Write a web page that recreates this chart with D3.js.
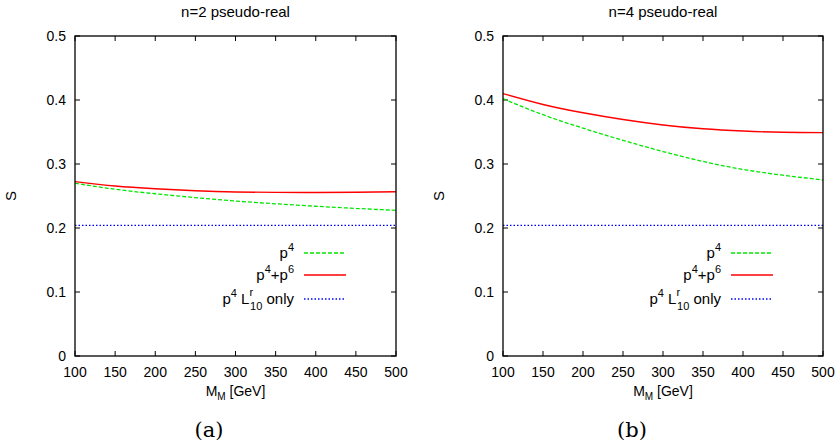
<!DOCTYPE html>
<html>
<head>
<meta charset="utf-8">
<script src="https://cdn.jsdelivr.net/npm/d3@7"></script>
<style>
  body { margin: 0; background: #fff; }
</style>
</head>
<body>
<div id="chart"></div>
<script>
// masses in GeV
const masses = [100, 150, 200, 250, 300, 350, 400, 450, 500];

// n=2 pseudo-real
const n2P4 = [0.2700, 0.2605, 0.2535, 0.2475, 0.2422, 0.2378, 0.2340, 0.2306, 0.2276];
const n2P4P6 = [0.2724, 0.2656, 0.2614, 0.2583, 0.2563, 0.2556, 0.2555, 0.2558, 0.2567];
const n2L10 = [0.204, 0.204, 0.204, 0.204, 0.204, 0.204, 0.204, 0.204, 0.204];

// n=4 pseudo-real
const n4P4 = [0.402, 0.377, 0.356, 0.337, 0.3195, 0.304, 0.2915, 0.2825, 0.275];
const n4P4P6 = [0.410, 0.393, 0.380, 0.3695, 0.361, 0.355, 0.3515, 0.3495, 0.349];
const n4L10 = [0.204, 0.204, 0.204, 0.204, 0.204, 0.204, 0.204, 0.204, 0.204];

const xTicks = [100, 150, 200, 250, 300, 350, 400, 450, 500];
const yTicks = [0, 0.1, 0.2, 0.3, 0.4, 0.5];

const W = 840, H = 445;
const FONT = '"Liberation Sans", Arial, Helvetica, sans-serif';
const svg = d3.select('#chart').append('svg')
  .attr('width', W).attr('height', H)
  .attr('font-family', FONT);

const panels = [
  { title: 'n=2 pseudo-real', caption: '(a)', capX: 209, left: 75, right: 396, p4: n2P4, p6: n2P4P6, l10: n2L10 },
  { title: 'n=4 pseudo-real', caption: '(b)', capX: 632, left: 503, right: 823, p4: n4P4, p6: n4P4P6, l10: n4L10 }
];
const TOP = 36, BOTTOM = 356;
const GREEN = '#00e600', RED = '#ff0000', BLUE = '#0000ff';

panels.forEach(p => {
  const x = d3.scaleLinear().domain([100, 500]).range([p.left, p.right]);
  const y = d3.scaleLinear().domain([0, 0.5]).range([BOTTOM, TOP]);
  const g = svg.append('g');

  // ticks inward on all four sides
  const tk = 5;
  xTicks.forEach(t => {
    g.append('line').attr('x1', x(t)).attr('x2', x(t)).attr('y1', BOTTOM).attr('y2', BOTTOM - tk).attr('stroke', '#000');
    g.append('line').attr('x1', x(t)).attr('x2', x(t)).attr('y1', TOP).attr('y2', TOP + tk).attr('stroke', '#000');
    g.append('text').attr('x', x(t)).attr('y', BOTTOM + 21)
      .attr('text-anchor', 'middle').attr('font-size', 14).text(t);
  });
  yTicks.forEach(t => {
    g.append('line').attr('x1', p.left).attr('x2', p.left + tk).attr('y1', y(t)).attr('y2', y(t)).attr('stroke', '#000');
    g.append('line').attr('x1', p.right).attr('x2', p.right - tk).attr('y1', y(t)).attr('y2', y(t)).attr('stroke', '#000');
    g.append('text').attr('x', p.left - 9).attr('y', y(t) + 5)
      .attr('text-anchor', 'end').attr('font-size', 14).text(t === 0 ? '0' : d3.format('.1f')(t));
  });

  const line = d3.line().x((d, i) => x(masses[i])).y(d => y(d)).curve(d3.curveNatural);
  const series = [
    { data: p.l10, color: BLUE, dash: '1.5,2', w: 1.3 },
    { data: p.p4, color: GREEN, dash: '4,2', w: 1.3 },
    { data: p.p6, color: RED, dash: null, w: 1.4 }
  ];
  series.forEach(s => {
    g.append('path').datum(s.data).attr('d', line)
      .attr('fill', 'none').attr('stroke', s.color).attr('stroke-width', s.w)
      .attr('stroke-dasharray', s.dash);
  });

  g.append('rect').attr('x', p.left).attr('y', TOP)
    .attr('width', p.right - p.left).attr('height', BOTTOM - TOP)
    .attr('fill', 'none').attr('stroke', '#000').attr('stroke-width', 1.3);

  // legend
  const lx1 = p.right - 92, lx2 = p.right - 50, tx = p.right - 102;
  const leg = [
    { yy: 253, color: GREEN, dash: '4,2', label: 'p4' },
    { yy: 275, color: RED, dash: null, label: 'p4p6' },
    { yy: 299, color: BLUE, dash: '1.5,2', label: 'l10' }
  ];
  leg.forEach(l => {
    g.append('line').attr('x1', lx1).attr('x2', lx2).attr('y1', l.yy).attr('y2', l.yy)
      .attr('stroke', l.color).attr('stroke-width', 1.3).attr('stroke-dasharray', l.dash);
    const t = g.append('text').attr('x', tx).attr('y', l.yy + 5)
      .attr('text-anchor', 'end').attr('font-size', 15);
    t.append('tspan').text('p');
    t.append('tspan').attr('dy', -7).attr('font-size', 11).text('4');
    if (l.label === 'p4p6') {
      t.append('tspan').attr('dy', 7).text('+p');
      t.append('tspan').attr('dy', -7).attr('font-size', 11).text('6');
    } else if (l.label === 'l10') {
      t.append('tspan').attr('dy', 7).text(' L');
      t.append('tspan').attr('dy', -8).attr('font-size', 11).text('r');
      t.append('tspan').attr('dx', -3).attr('dy', 14).attr('font-size', 11).text('10');
      t.append('tspan').attr('dy', -6).text(' only');
    }
  });

  // title
  g.append('text').attr('x', (p.left + p.right) / 2).attr('y', 17)
    .attr('text-anchor', 'middle').attr('font-size', 15).text(p.title);

  // axis labels
  const xl = g.append('text').attr('x', (p.left + p.right) / 2).attr('y', BOTTOM + 40)
    .attr('text-anchor', 'middle').attr('font-size', 14);
  xl.append('tspan').text('M');
  xl.append('tspan').attr('dy', 4).attr('font-size', 10).text('M');
  xl.append('tspan').attr('dy', -4).text(' [GeV]');

  g.append('text').attr('transform', `translate(${p.left - 59},${(TOP + BOTTOM) / 2}) rotate(-90)`)
    .attr('text-anchor', 'middle').attr('font-size', 15).text('S');

  g.append('text').attr('x', p.capX).attr('y', 437)
    .attr('font-family', '"DejaVu Serif", "Liberation Serif", serif').attr('font-size', 21)
    .attr('text-anchor', 'middle').text(p.caption);
});
</script>
</body>
</html>
